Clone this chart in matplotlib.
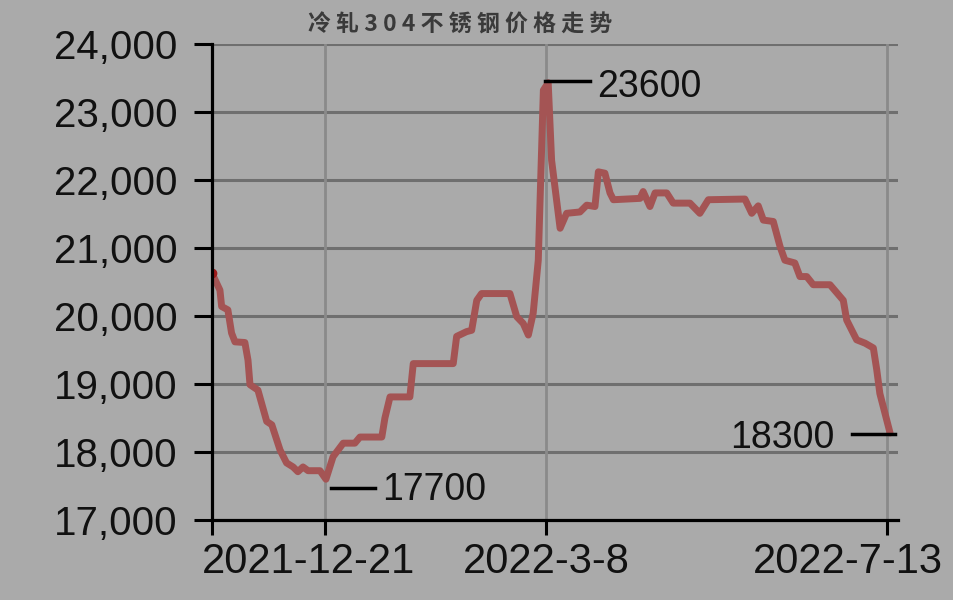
import matplotlib
matplotlib.use("Agg")
import matplotlib.pyplot as plt
from matplotlib.ticker import FuncFormatter
from matplotlib.transforms import ScaledTranslation

# ---- data (x = position index along the time axis, price in yuan/ton) ----
x_idx = [0, 2.8, 3.4, 5.6, 6.9, 8.1, 11.6, 12.7, 13.4, 16.2, 19.3, 21.1, 24.0, 26.3,
         28.6, 30.3, 32.1, 33.9, 38.1, 40.2, 42.7, 46.3, 50.4, 52.2, 59.9, 61.0,
         62.8, 69.8, 71.0, 85.1, 86.3, 89.8, 91.6, 93.4, 95.1, 105.1, 107.5, 109.8,
         111.6, 113.3, 115.1, 116.9, 118.6, 119.8, 122.8, 125.1, 129.8, 132.2, 135.1,
         136.3, 138.6, 140.4, 141.6, 151.0, 152.1, 154.5, 156.3, 160.4, 162.7, 168.6,
         172.1, 175.1, 188.0, 190.4, 192.7, 194.5, 198.0, 200.4, 202.1, 205.6, 207.4,
         209.8, 212.1, 218.0, 222.7, 223.9, 227.4, 230.4, 233.3, 234.5, 235.6, 237.4,
         239.2]
price = [20630, 20380, 20140, 20090, 19750, 19620, 19610, 19350, 18990, 18910, 18450,
         18400, 18030, 17840, 17780, 17710, 17780, 17725, 17725, 17600, 17930, 18130,
         18130, 18220, 18220, 18500, 18810, 18810, 19300, 19300, 19700, 19770, 19790,
         20230, 20330, 20330, 19990, 19890, 19720, 20040, 20820, 23320, 23430, 22290,
         21290, 21510, 21530, 21630, 21610, 22120, 22100, 21810, 21710, 21730, 21830,
         21610, 21810, 21810, 21660, 21660, 21510, 21710, 21720, 21510, 21620, 21410,
         21390, 21020, 20820, 20780, 20580, 20580, 20460, 20460, 20230, 19940, 19650,
         19600, 19530, 19210, 18860, 18570, 18280]

tick_pos = [0, 40, 118, 238]
tick_labels = ["", "2021-12-21", "2022-3-8", "2022-7-13"]
y_ticks = [17000, 18000, 19000, 20000, 21000, 22000, 23000, 24000]

ann_labels = ["17700", "23600", "18300"]
title = "冷轧304不锈钢价格走势"

# ---- styling ----
BG = "#aaaaaa"
LINE = "#a45454"
fig = plt.figure(figsize=(9.54, 6.0), dpi=100, facecolor=BG)
ax = fig.add_axes([212/954, 80/600, 686/954, 476/600], facecolor=BG)

ax.plot(x_idx, price, color=LINE, lw=5, solid_joinstyle="round",
        solid_capstyle="round", zorder=3)
ax.plot(x_idx[0], price[0], "o", color="#9e1a1a", ms=6, zorder=4)

ax.set_xlim(0, 242)
ax.set_ylim(17000, 24000)
ax.set_yticks(y_ticks)
ax.yaxis.set_major_formatter(FuncFormatter(lambda v, p: f"{int(v):,}"))
ax.set_xticks(tick_pos)
ax.set_xticklabels(tick_labels)

for yt in y_ticks[1:]:
    ax.axhline(yt, color="#6f6f6f", lw=2.2, zorder=1)
for xt in tick_pos[1:]:
    ax.axvline(xt, color="#8a8a8a", lw=2.0, zorder=1)

for s in ["top", "right"]:
    ax.spines[s].set_visible(False)
for s in ["left", "bottom"]:
    ax.spines[s].set_linewidth(2.3)
    ax.spines[s].set_color("black")
    ax.spines[s].set_zorder(5)

ax.tick_params(axis="y", length=13, width=2.2, pad=12, colors="black")
ax.tick_params(axis="x", length=11, width=2.2, pad=5, colors="black")
for lab in ax.get_yticklabels():
    lab.set_fontfamily("Liberation Sans")
    lab.set_fontsize(29)
    lab.set_color("#111111")
# x labels: the outer ones are nudged left, as in the original
x_shift_px = [0, -17, 0, -39]
for lab, dx in zip(ax.get_xticklabels(), x_shift_px):
    lab.set_fontfamily("Liberation Sans")
    lab.set_fontsize(30)
    lab.set_color("#111111")
    lab.set_transform(lab.get_transform() +
                      ScaledTranslation(dx / 100, 0, fig.dpi_scale_trans))

# ---- annotations ----
ann_font = dict(family="Liberation Sans", size=27, color="#111111")
# 17700 (minimum)
ax.plot([42.0, 57.5], [17470, 17470], color="black", lw=2.5, zorder=4, clip_on=False)
ax.text(60.0, 17300, ann_labels[0], ha="left", va="baseline", **ann_font)
# 23600 (peak)
ax.plot([117.6, 133.3], [23456, 23456], color="black", lw=2.5, zorder=4, clip_on=False)
ax.text(136.0, 23215, ann_labels[1], ha="left", va="baseline", **ann_font)
# 18300 (latest)
ax.plot([225.7, 240.9], [18265, 18265], color="black", lw=2.5, zorder=4, clip_on=False)
ax.text(219.6, 18055, ann_labels[2], ha="right", va="baseline", **ann_font)

# ---- title ----
fig.text(460/954, 1 - 25/600, " ".join(title), ha="center", va="center",
         fontsize=16.5, color="#3a3a3a", fontweight="bold",
         family=["Noto Sans CJK SC", "DejaVu Sans"])

fig.savefig("out.png", dpi=100, facecolor=BG)
